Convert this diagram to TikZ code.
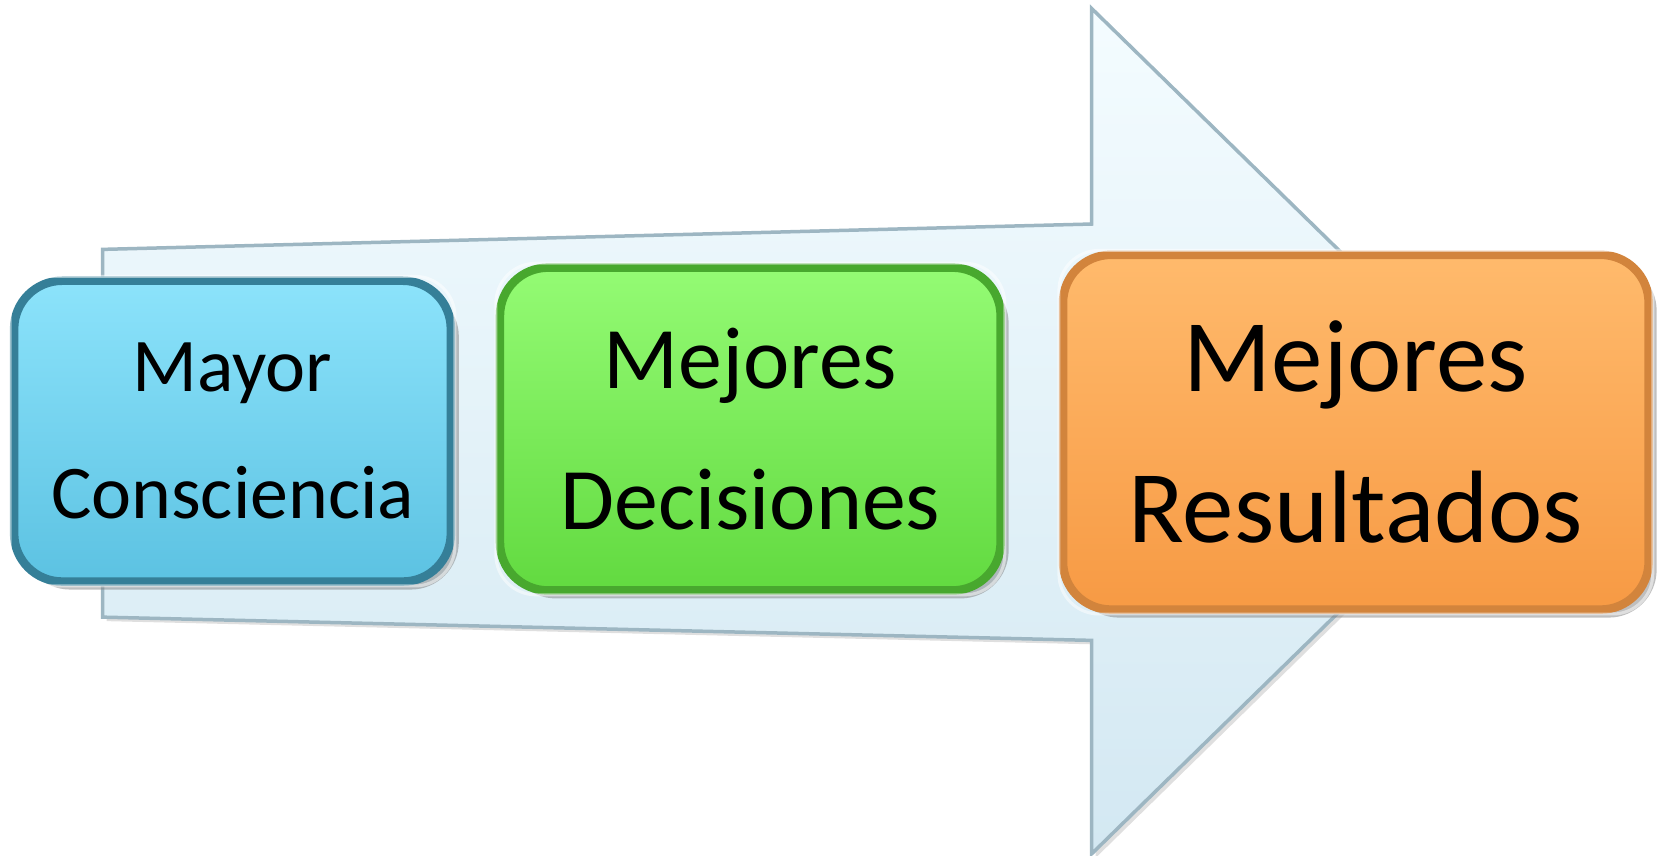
\documentclass[tikz,border=0pt]{standalone}
\usepackage{fontspec}
\setmainfont{Carlito}
\usetikzlibrary{shadows}

\definecolor{arrowedge}{HTML}{9DB6C2}
\definecolor{arrowtop}{HTML}{F4FCFF}
\definecolor{arrowbot}{HTML}{D3E8F2}
\definecolor{bluetop}{HTML}{8CE3FB}
\definecolor{bluebot}{HTML}{5CC2E2}
\definecolor{blueedge}{HTML}{357F98}
\definecolor{greentop}{HTML}{94FB74}
\definecolor{greenbot}{HTML}{62DA40}
\definecolor{greenedge}{HTML}{48A82E}
\definecolor{orangetop}{HTML}{FFBA6C}
\definecolor{orangebot}{HTML}{F79A44}
\definecolor{orangeedge}{HTML}{D2843C}

\tikzset{
  stepbox/.style={rounded corners=0.48cm, line width=0.85mm, align=center,
    drop shadow={shadow xshift=0.8mm, shadow yshift=-0.8mm, opacity=0.5}},
  bluebox/.style={stepbox, draw=blueedge, top color=bluetop, bottom color=bluebot},
  greenbox/.style={stepbox, draw=greenedge, top color=greentop, bottom color=greenbot},
  orangebox/.style={stepbox, draw=orangeedge, top color=orangetop, bottom color=orangebot},
  innerring/.style={line width=0.3mm, color=white, opacity=0.5, rounded corners=0.4cm},
}

\begin{document}
\begin{tikzpicture}[x=0.010568cm, y=-0.010568cm]
			%%%%% START %%%%%
			\useasboundingbox (0, 0) rectangle (1568, 810);
			
			% big arrow behind
			\draw[line width=0.35mm, draw=arrowedge, top color=arrowtop, bottom color=arrowbot,
			  drop shadow={shadow xshift=0.4mm, shadow yshift=-0.4mm, opacity=0.25}]
			  (97, 236) -- (1033, 212) -- (1033, 8) -- (1442, 408) -- (1033, 808)
			  -- (1033, 606) -- (97, 584) -- cycle;
			
			\node[bluebox, minimum width=4.37cm, minimum height=3.01cm,
			  font={\fontsize{21.6pt}{36pt}\selectfont}] (aware) at (220, 408)
			  {Mayor\\Consciencia};
			
			\node[greenbox, minimum width=5.01cm, minimum height=3.23cm,
			  font={\fontsize{25pt}{40pt}\selectfont}] (decide) at (710, 406)
			  {Mejores\\Decisiones};
			
			\node[orangebox, minimum width=5.86cm, minimum height=3.55cm,
			  font={\fontsize{29.3pt}{43pt}\selectfont}] (result) at (1283, 409)
			  {Mejores\\Resultados};
			
			% inner highlight rings
			\draw[innerring] ([shift={(0.14,-0.14)}]aware.north west) rectangle ([shift={(-0.14,0.14)}]aware.south east);
			\draw[innerring] ([shift={(0.14,-0.14)}]decide.north west) rectangle ([shift={(-0.14,0.14)}]decide.south east);
			\draw[innerring] ([shift={(0.14,-0.14)}]result.north west) rectangle ([shift={(-0.14,0.14)}]result.south east);
			
			%%%%% END %%%%%
		\end{tikzpicture}
\end{document}
